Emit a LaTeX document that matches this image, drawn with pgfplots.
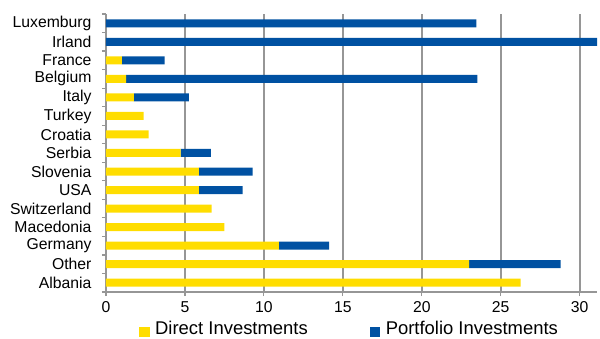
\documentclass[border=0pt]{standalone}
\usepackage{fontspec}
\setmainfont{Liberation Sans}
\usepackage{pgfplots}
\pgfplotsset{compat=1.18}
\usepackage{pgfplotstable}
\definecolor{dyellow}{RGB}{255,221,0}
\definecolor{pblue}{RGB}{0,81,162}
\definecolor{gridgray}{RGB}{150,150,150}
\pgfplotstableread{
idx direct portfolio
0  26.27 0
1  23.0  5.8
2  10.95 3.19
3  7.49  0
4  6.69  0
5  5.89  2.76
6  5.89  3.39
7  4.73  1.92
8  2.70  0
9  2.38  0
10 1.77  3.48
11 1.27  22.25
12 1.0   2.71
13 0     31.1
14 0     23.46
}\datatable
\begin{document}
\begin{tikzpicture}
\path[use as bounding box] (-106bp,-47bp) rectangle (494bp,292bp);
\begin{axis}[
  scale only axis,
  width=491bp, height=278bp,
  xbar stacked,
  bar width=8bp,
  xmin=0, xmax=31.1,
  ymin=-0.5, ymax=14.5,
  axis lines=left,
  axis line style={-, draw=gridgray, line width=1.2bp},
  xtick={0,5,...,30},
  ytick={0,...,14},
  yticklabels={Albania,Other~,Germany,Macedonia,Switzerland,USA,Slovenia,Serbia,Croatia,Turkey,Italy,Belgium,France,Irland,Luxemburg},
  minor ytick={-0.5,0.5,...,14.5},
  tick align=outside,
  major tick length=4bp,
  minor tick length=4bp,
  y tick style={draw=none},
  x tick style={draw=gridgray, line width=1.2bp},
  minor y tick style={draw=gridgray, line width=1.2bp},
  xmajorgrids,
  major grid style={draw=gridgray, line width=1.8bp},
  /pgf/number format/assume math mode=true,
  ticklabel style={font=\fontsize{15.8}{18}\selectfont},
  yticklabel style={xshift=-7bp},
  xticklabel style={yshift=-2bp},
  legend columns=2,
  legend style={draw=none, at={(0.496,-0.133)}, anchor=center,
    font=\fontsize{18.5}{22}\selectfont,
    /tikz/every even column/.append style={column sep=60bp},
    inner sep=0pt},
  legend image code/.code={\fill[#1] (0bp,-8.5bp) rectangle (10.5bp,1.5bp); \path (14bp,0bp);},
]
\addplot[fill=dyellow, draw=none] table[x=direct, y=idx] {\datatable};
\addplot[fill=pblue, draw=none] table[x=portfolio, y=idx] {\datatable};
\legend{Direct Investments, Portfolio Investments}
\end{axis}
\end{tikzpicture}
\end{document}
